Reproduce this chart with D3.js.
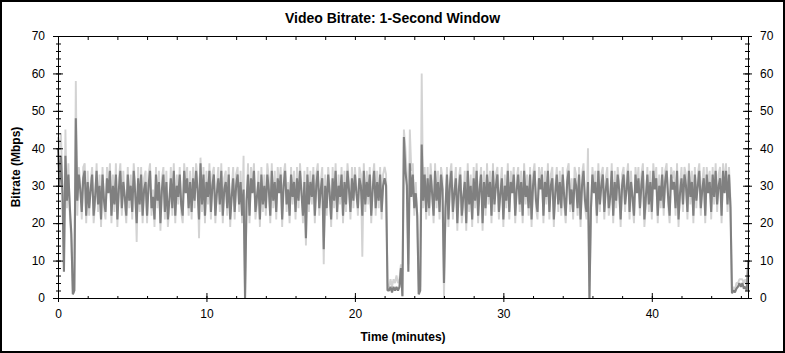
<!DOCTYPE html>
<html>
<head>
<meta charset="utf-8">
<script src="https://cdn.jsdelivr.net/npm/d3@7"></script>
<style>
  body { margin: 0; background: #fff; }
</style>
</head>
<body>
<svg id="chart" width="785" height="353"></svg>
<script>
// one sample every 0.1 minute (6 s)
var stepMinutes = 0.1;

// light gray series (outer spread)
var lightRate = [
  43,40,44,30,8,45,24,36,22,15,
  1,2,58,22,35,31,21,35,36,20,
  34,22,31,35,20,25,36,23,33,19,
  35,24,21,35,30,36,20,33,23,36,
  19,32,36,22,34,25,20,35,24,33,
  21,36,30,15,35,23,35,20,32,34,
  20,33,36,22,29,19,35,24,34,18,
  32,35,21,34,19,24,35,22,36,20,
  33,25,35,23,20,36,30,35,22,34,
  21,35,24,36,32,16,37.5,23,35,20,
  34,25,36,21,33,35,20,30,35,23,
  36,20,32,34,22,35,19,29,35,21,
  33,35,23,34,20,38,0,24,36,20,
  35,30,36,21,25,34,19,35,23,33,
  22,36,32,20,36,24,34,21,35,30,
  35,19,33,36,23,31,20,35,25,34,
  21,35,24,36,30,20,34,14,35,23,
  34,25,35,20,33,36,22,31,35,9,
  33,22,35,30,19,35,24,36,21,33,
  25,35,20,34,23,36,31,21,35,24,
  35,30,22,35,33,11,36,23,34,25,
  35,20,32,36,22,34,24,35,21,33,
  35,33,2,3,5,3,5,4,6,4,
  5,9,0.5,45,40,33,9,45,34,36,
  22,31,21,1,3,60,24,35,21,35,
  22,36,30,20,36,24,34,21,35,32,
  0,22,35,19,33,36,21,30,35,18,
  32,35,20,25,34,18,36,23,33,19,
  35,24,36,20,31,35,18,34,22,36,
  25,34,20,36,23,33,35,21,30,35,
  19,33,24,36,21,34,30,35,20,32,
  35,23,34,20,36,25,33,22,35,19,
  33,36,24,21,35,31,35,20,34,25,
  36,21,33,35,19,30,35,23,34,22,
  35,25,20,34,36,23,32,21,35,33,
  22,35,19,33,36,24,21,40,0,22,
  35,30,34,20,36,23,33,35,21,32,
  35,22,25,36,20,34,24,35,31,19,
  33,35,23,32,36,21,34,25,20,35,
  30,35,22,33,36,19,25,35,23,34,
  21,36,31,35,20,33,24,35,22,34,
  36,25,20,35,32,34,22,36,19,30,
  35,23,35,33,21,36,25,34,20,35,
  24,33,36,22,31,35,20,35,30,34,
  21,35,25,36,23,33,35,20,36,30,
  36,23,35,26,1.3,3,2,4,4,5,
  5,5,4,5,3,10
];

// dark gray series
var darkRate = [
  40,30,38,28,7,38,26,33,24,17,
  1,2,48,26,33,29,23,32,34,22,
  31,24,29,33,22,27,34,25,30,21,
  33,26,23,32,28,34,22,30,25,33,
  21,29,34,24,31,27,22,33,26,30,
  23,34,28,20,32,25,33,22,29,31,
  22,30,34,24,27,21,33,26,31,20,
  29,33,23,31,21,26,32,24,34,22,
  30,27,33,25,22,34,28,32,24,31,
  23,32,26,34,29,21,36,25,33,22,
  31,27,34,23,30,33,22,28,32,25,
  34,22,29,31,24,33,21,27,32,23,
  30,33,25,31,22,29,0,26,33,22,
  32,28,34,23,27,31,21,33,25,30,
  24,33,29,22,34,26,31,23,32,28,
  33,21,30,34,25,29,22,33,27,31,
  23,32,26,34,28,22,31,16,33,25,
  31,27,33,22,30,34,24,29,32,13,
  30,24,33,28,21,32,26,34,23,30,
  27,33,22,31,25,34,29,23,32,26,
  33,28,24,32,30,22,34,25,31,27,
  33,22,29,34,24,31,26,33,23,30,
  32,30,2,2,3,1.5,3,2,3,2,
  3,8,0.5,43,34,30,7,36,27,33,
  24,28,22,1,2,41,26,33,23,32,
  24,33,28,22,34,26,31,23,33,29,
  4,24,33,21,30,34,23,28,32,20,
  29,33,22,27,31,20,34,25,30,21,
  32,26,34,22,29,33,20,31,24,33,
  27,31,22,34,25,30,33,23,28,32,
  21,30,26,34,23,31,28,33,22,29,
  33,25,31,22,34,27,30,24,33,21,
  30,34,26,23,32,29,33,22,31,27,
  34,23,30,32,21,28,33,25,31,24,
  33,27,22,31,34,25,29,23,32,30,
  24,33,21,30,34,26,23,31,0,24,
  33,28,31,22,34,25,30,33,23,29,
  32,24,27,34,22,31,26,33,29,21,
  30,33,25,29,34,23,31,27,22,33,
  28,32,24,30,34,21,27,33,25,31,
  23,34,29,32,22,30,26,33,24,31,
  34,27,22,33,29,31,24,34,21,28,
  32,25,33,30,23,34,27,31,22,33,
  26,30,34,24,29,32,22,33,28,31,
  23,33,27,34,25,30,32,22,34,28,
  34,25,33,24,1.3,2,1.5,2.5,3,4,
  3,4,2.5,3,2,10
];

var xTickLabels = [0, 10, 20, 30, 40];
var yTickLabels = [0, 10, 20, 30, 40, 50, 60, 70];
var xMinorTicks = d3.range(0, 47, 2);
var yMinorTicks = d3.range(0, 71, 2);

var fontFamily = '"Liberation Sans", Arial, sans-serif';

svg = d3.select("#chart");

// outer frame
svg.append("rect")
    .attr("x", 1).attr("y", 1)
    .attr("width", 783).attr("height", 351)
    .attr("fill", "none")
    .attr("stroke", "#000")
    .attr("stroke-width", 2);

x = d3.scaleLinear().domain([0, 46.5]).range([58, 748.3]);
y = d3.scaleLinear().domain([0, 70]).range([298, 36]);

// series, light first then dark on top
line = d3.line()
    .x(function(d, i) { return x(i * stepMinutes); })
    .y(function(d) { return y(d); });

svg.append("path")
    .datum(lightRate)
    .attr("fill", "none")
    .attr("stroke", "#d3d3d3")
    .attr("stroke-width", 1.9)
    .attr("stroke-linejoin", "bevel")
    .attr("d", line);
svg.append("path")
    .datum(darkRate)
    .attr("fill", "none")
    .attr("stroke", "#808080")
    .attr("stroke-width", 2.1)
    .attr("stroke-linejoin", "bevel")
    .attr("d", line);

function styleAxis(g) {
  g.attr("font-size", 12).attr("font-family", fontFamily);
  g.selectAll("text").attr("fill", "#000");
  g.selectAll("path, line").attr("stroke", "#000");
}

// left axis: crossing ticks, labels outside
svg.append("g").attr("transform", "translate(58,0)")
    .call(d3.axisLeft(y).tickValues(yMinorTicks).tickSize(2).tickSizeOuter(0).tickFormat(""))
    .call(styleAxis);
svg.append("g").attr("transform", "translate(58,0)")
    .call(d3.axisRight(y).tickValues(yMinorTicks).tickSize(3).tickSizeOuter(0).tickFormat(""))
    .call(styleAxis);
svg.append("g").attr("transform", "translate(58,0)")
    .call(d3.axisRight(y).tickValues(yTickLabels).tickSize(5).tickSizeOuter(0).tickFormat(""))
    .call(styleAxis);
svg.append("g").attr("transform", "translate(58,0)")
    .call(d3.axisLeft(y).tickValues(yTickLabels).tickSize(5).tickSizeOuter(0).tickPadding(8))
    .call(styleAxis);

// right axis
svg.append("g").attr("transform", "translate(748,0)")
    .call(d3.axisLeft(y).tickValues(yMinorTicks).tickSize(3).tickSizeOuter(0).tickFormat(""))
    .call(styleAxis);
svg.append("g").attr("transform", "translate(748,0)")
    .call(d3.axisRight(y).tickValues(yMinorTicks).tickSize(2).tickSizeOuter(0).tickFormat(""))
    .call(styleAxis);
svg.append("g").attr("transform", "translate(748,0)")
    .call(d3.axisLeft(y).tickValues(yTickLabels).tickSize(5).tickSizeOuter(0).tickFormat(""))
    .call(styleAxis);
svg.append("g").attr("transform", "translate(748,0)")
    .call(d3.axisRight(y).tickValues(yTickLabels).tickSize(4).tickSizeOuter(0).tickPadding(8))
    .call(styleAxis);

// bottom axis
svg.append("g").attr("transform", "translate(0,298)")
    .call(d3.axisTop(x).tickValues(xMinorTicks).tickSize(2).tickSizeOuter(0).tickFormat(""))
    .call(styleAxis);
svg.append("g").attr("transform", "translate(0,298)")
    .call(d3.axisTop(x).tickValues(xTickLabels).tickSize(5).tickSizeOuter(0).tickFormat(""))
    .call(styleAxis);
svg.append("g").attr("transform", "translate(0,298)")
    .call(d3.axisBottom(x).tickValues(xTickLabels).tickSize(4).tickSizeOuter(0).tickPadding(7))
    .call(styleAxis);

// top axis, minor ticks pointing in
svg.append("g").attr("transform", "translate(0,36)")
    .call(d3.axisBottom(x).tickValues(xMinorTicks).tickSize(4).tickSizeOuter(0).tickFormat(""))
    .call(styleAxis);

// titles
svg.append("text")
    .attr("x", 392.5).attr("y", 22.5)
    .attr("text-anchor", "middle")
    .attr("font-family", fontFamily)
    .attr("font-size", 14)
    .attr("font-weight", "bold")
    .text("Video Bitrate: 1-Second Window");

svg.append("text")
    .attr("x", 403).attr("y", 341)
    .attr("text-anchor", "middle")
    .attr("font-family", fontFamily)
    .attr("font-size", 12)
    .attr("font-weight", "bold")
    .text("Time (minutes)");

svg.append("text")
    .attr("transform", "translate(20,167) rotate(-90)")
    .attr("text-anchor", "middle")
    .attr("font-family", fontFamily)
    .attr("font-size", 12)
    .attr("font-weight", "bold")
    .text("Bitrate (Mbps)");
</script>
</body>
</html>
